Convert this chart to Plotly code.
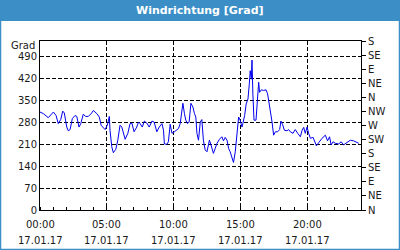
import plotly.graph_objects as go
import pandas as pd

# Data: minutes since midnight (17.01.17) and wind direction in degrees
minutes = [0, 15, 37, 60, 72, 82, 93, 102, 109, 120, 127, 135, 145, 157, 165, 175, 183, 194, 205, 217,
           232, 239, 255, 266, 274, 284, 292, 302, 307, 311, 314, 322, 329, 340, 349, 359, 367, 374, 382, 394,
           404, 412, 422, 434, 442, 449, 459, 468, 479, 490, 502, 512, 524, 535, 547, 554, 558, 569, 576, 584,
           592, 603, 611, 621, 629, 636, 641, 648, 654, 662, 669, 677, 686, 693, 699, 704, 711, 719, 726, 733,
           741, 749, 756, 760, 767, 771, 778, 786, 794, 805, 816, 823, 831, 839, 846, 853, 861, 868, 876, 884,
           891, 898, 906, 910, 918, 925, 933, 939, 943, 948, 951, 955, 960, 969, 975, 981, 985, 993, 1003, 1014,
           1021, 1025, 1030, 1033, 1041, 1048, 1056, 1066, 1075, 1081, 1088, 1096, 1108, 1115, 1123, 1135, 1145, 1156, 1168, 1175,
           1183, 1190, 1198, 1205, 1213, 1225, 1231, 1240, 1250, 1265, 1280, 1290, 1299, 1306, 1315, 1325, 1340, 1351, 1362, 1378,
           1392, 1407, 1422, 1430]
degrees = [313, 308, 295, 313, 302, 276, 289, 316, 310, 265, 253, 257, 292, 302, 299, 265, 276, 306, 299, 299,
           310, 318, 308, 297, 271, 264, 257, 271, 295, 299, 255, 202, 183, 194, 223, 271, 265, 245, 226, 245,
           276, 278, 250, 265, 281, 276, 265, 284, 278, 265, 284, 281, 250, 265, 276, 255, 211, 210, 218, 274,
           245, 250, 255, 260, 276, 313, 341, 308, 287, 276, 281, 341, 329, 308, 297, 245, 223, 281, 289, 223,
           192, 186, 213, 223, 208, 197, 181, 197, 213, 226, 234, 221, 232, 223, 197, 186, 166, 152, 186, 245,
           297, 287, 265, 276, 302, 339, 355, 403, 445, 418, 479, 371, 287, 287, 350, 408, 376, 384, 382, 384,
           371, 355, 329, 324, 281, 239, 250, 250, 257, 284, 274, 255, 253, 257, 250, 245, 257, 245, 234, 253,
           264, 245, 265, 245, 229, 232, 223, 205, 215, 229, 239, 221, 234, 208, 218, 213, 211, 218, 208, 215,
           223, 221, 215, 213]

left_ticks = [0, 70, 140, 210, 280, 350, 420, 490]
right_vals = [0, 45, 90, 135, 180, 225, 270, 315, 360, 405, 450, 495, 540]
right_text = ["N", "NE", "E", "SE", "S", "SW", "W", "NW", "N", "NE", "E", "SE", "S"]
x_hours = [0, 5, 10, 15, 20]
date_label = "17.01.17"
title_text = "Windrichtung [Grad]"

base = pd.Timestamp("2017-01-17 00:00")
times = [base + pd.Timedelta(minutes=m) for m in minutes]
xt_vals = [base + pd.Timedelta(hours=h) for h in x_hours]

FONT = "DejaVu Sans"
TXT = "#1a1a1a"
BLUE_BAR = "#3b8fc6"

fig = go.Figure()
fig.add_trace(go.Scatter(x=times, y=degrees, mode="lines",
                         line=dict(color="#0000ee", width=1), showlegend=False, hoverinfo="skip"))
# invisible trace for right axis
fig.add_trace(go.Scatter(x=[times[0]], y=[0], yaxis="y2", mode="markers",
                         marker=dict(opacity=0), showlegend=False, hoverinfo="skip"))

W, H = 400, 250
ml, mr, mt, mb = 40, 39, 41, 40
pw, ph = W - ml - mr, H - mt - mb

def px_x(x):
    return (x - ml) / pw

def px_y(y):
    return (H - mb - y) / ph

annotations = [
    dict(text=f"<b>{title_text}</b>", xref="paper", yref="paper", x=px_x(200), y=px_y(10.5),
         showarrow=False, font=dict(size=11, color="white", family=FONT), xanchor="center", yanchor="middle"),
    dict(text="Grad", xref="paper", yref="paper", x=px_x(37), y=px_y(45),
         showarrow=False, font=dict(size=10, color=TXT, family=FONT), xanchor="right", yanchor="middle"),
]
for tv, h in zip(xt_vals, x_hours):
    annotations.append(dict(text=f"{h:02d}:00", xref="x", yref="paper", x=tv, y=px_y(224),
                            showarrow=False, font=dict(size=10, color=TXT, family=FONT),
                            xanchor="center", yanchor="middle"))
    annotations.append(dict(text=date_label, xref="x", yref="paper", x=tv, y=px_y(240),
                            showarrow=False, font=dict(size=10, color=TXT, family=FONT),
                            xanchor="center", yanchor="middle"))

fig.update_layout(
    width=W, height=H,
    margin=dict(l=ml, r=mr, t=mt, b=mb),
    paper_bgcolor="white", plot_bgcolor="white",
    font=dict(family=FONT, size=10, color=TXT),
    xaxis=dict(range=[base, base + pd.Timedelta(hours=24)], type="date",
               tickvals=xt_vals, showticklabels=False, ticks="", showgrid=True,
               gridcolor="black", griddash="4px,2px", gridwidth=1,
               showline=True, linecolor="black", linewidth=1, mirror=True,
               zeroline=False,
               minor=dict(dtick=3600000, ticks="inside", ticklen=3, tickcolor="black", showgrid=False)),
    yaxis=dict(range=[0, 540], tickvals=left_ticks, ticks="", showgrid=True,
               gridcolor="black", griddash="4px,2px", gridwidth=1,
               showline=True, linecolor="black", linewidth=1, mirror=True,
               zeroline=False, tickfont=dict(size=10, color=TXT)),
    yaxis2=dict(range=[0, 540], overlaying="y", side="right", tickvals=right_vals,
                ticktext=right_text, ticks="outside", ticklen=4, tickcolor="black",
                showgrid=False, zeroline=False, showline=True, linecolor="black",
                tickfont=dict(size=10, color=TXT)),
    shapes=[
        dict(type="rect", xref="paper", yref="paper", x0=px_x(0), x1=px_x(400),
             y0=px_y(21), y1=px_y(0), fillcolor=BLUE_BAR, line=dict(width=0), layer="below"),
        dict(type="rect", xref="paper", yref="paper", x0=px_x(0.5), x1=px_x(399.5),
             y0=px_y(249.5), y1=px_y(0.5), line=dict(color=BLUE_BAR, width=1.5)),
    ],
    annotations=annotations,
)

fig.write_html("out.html")
